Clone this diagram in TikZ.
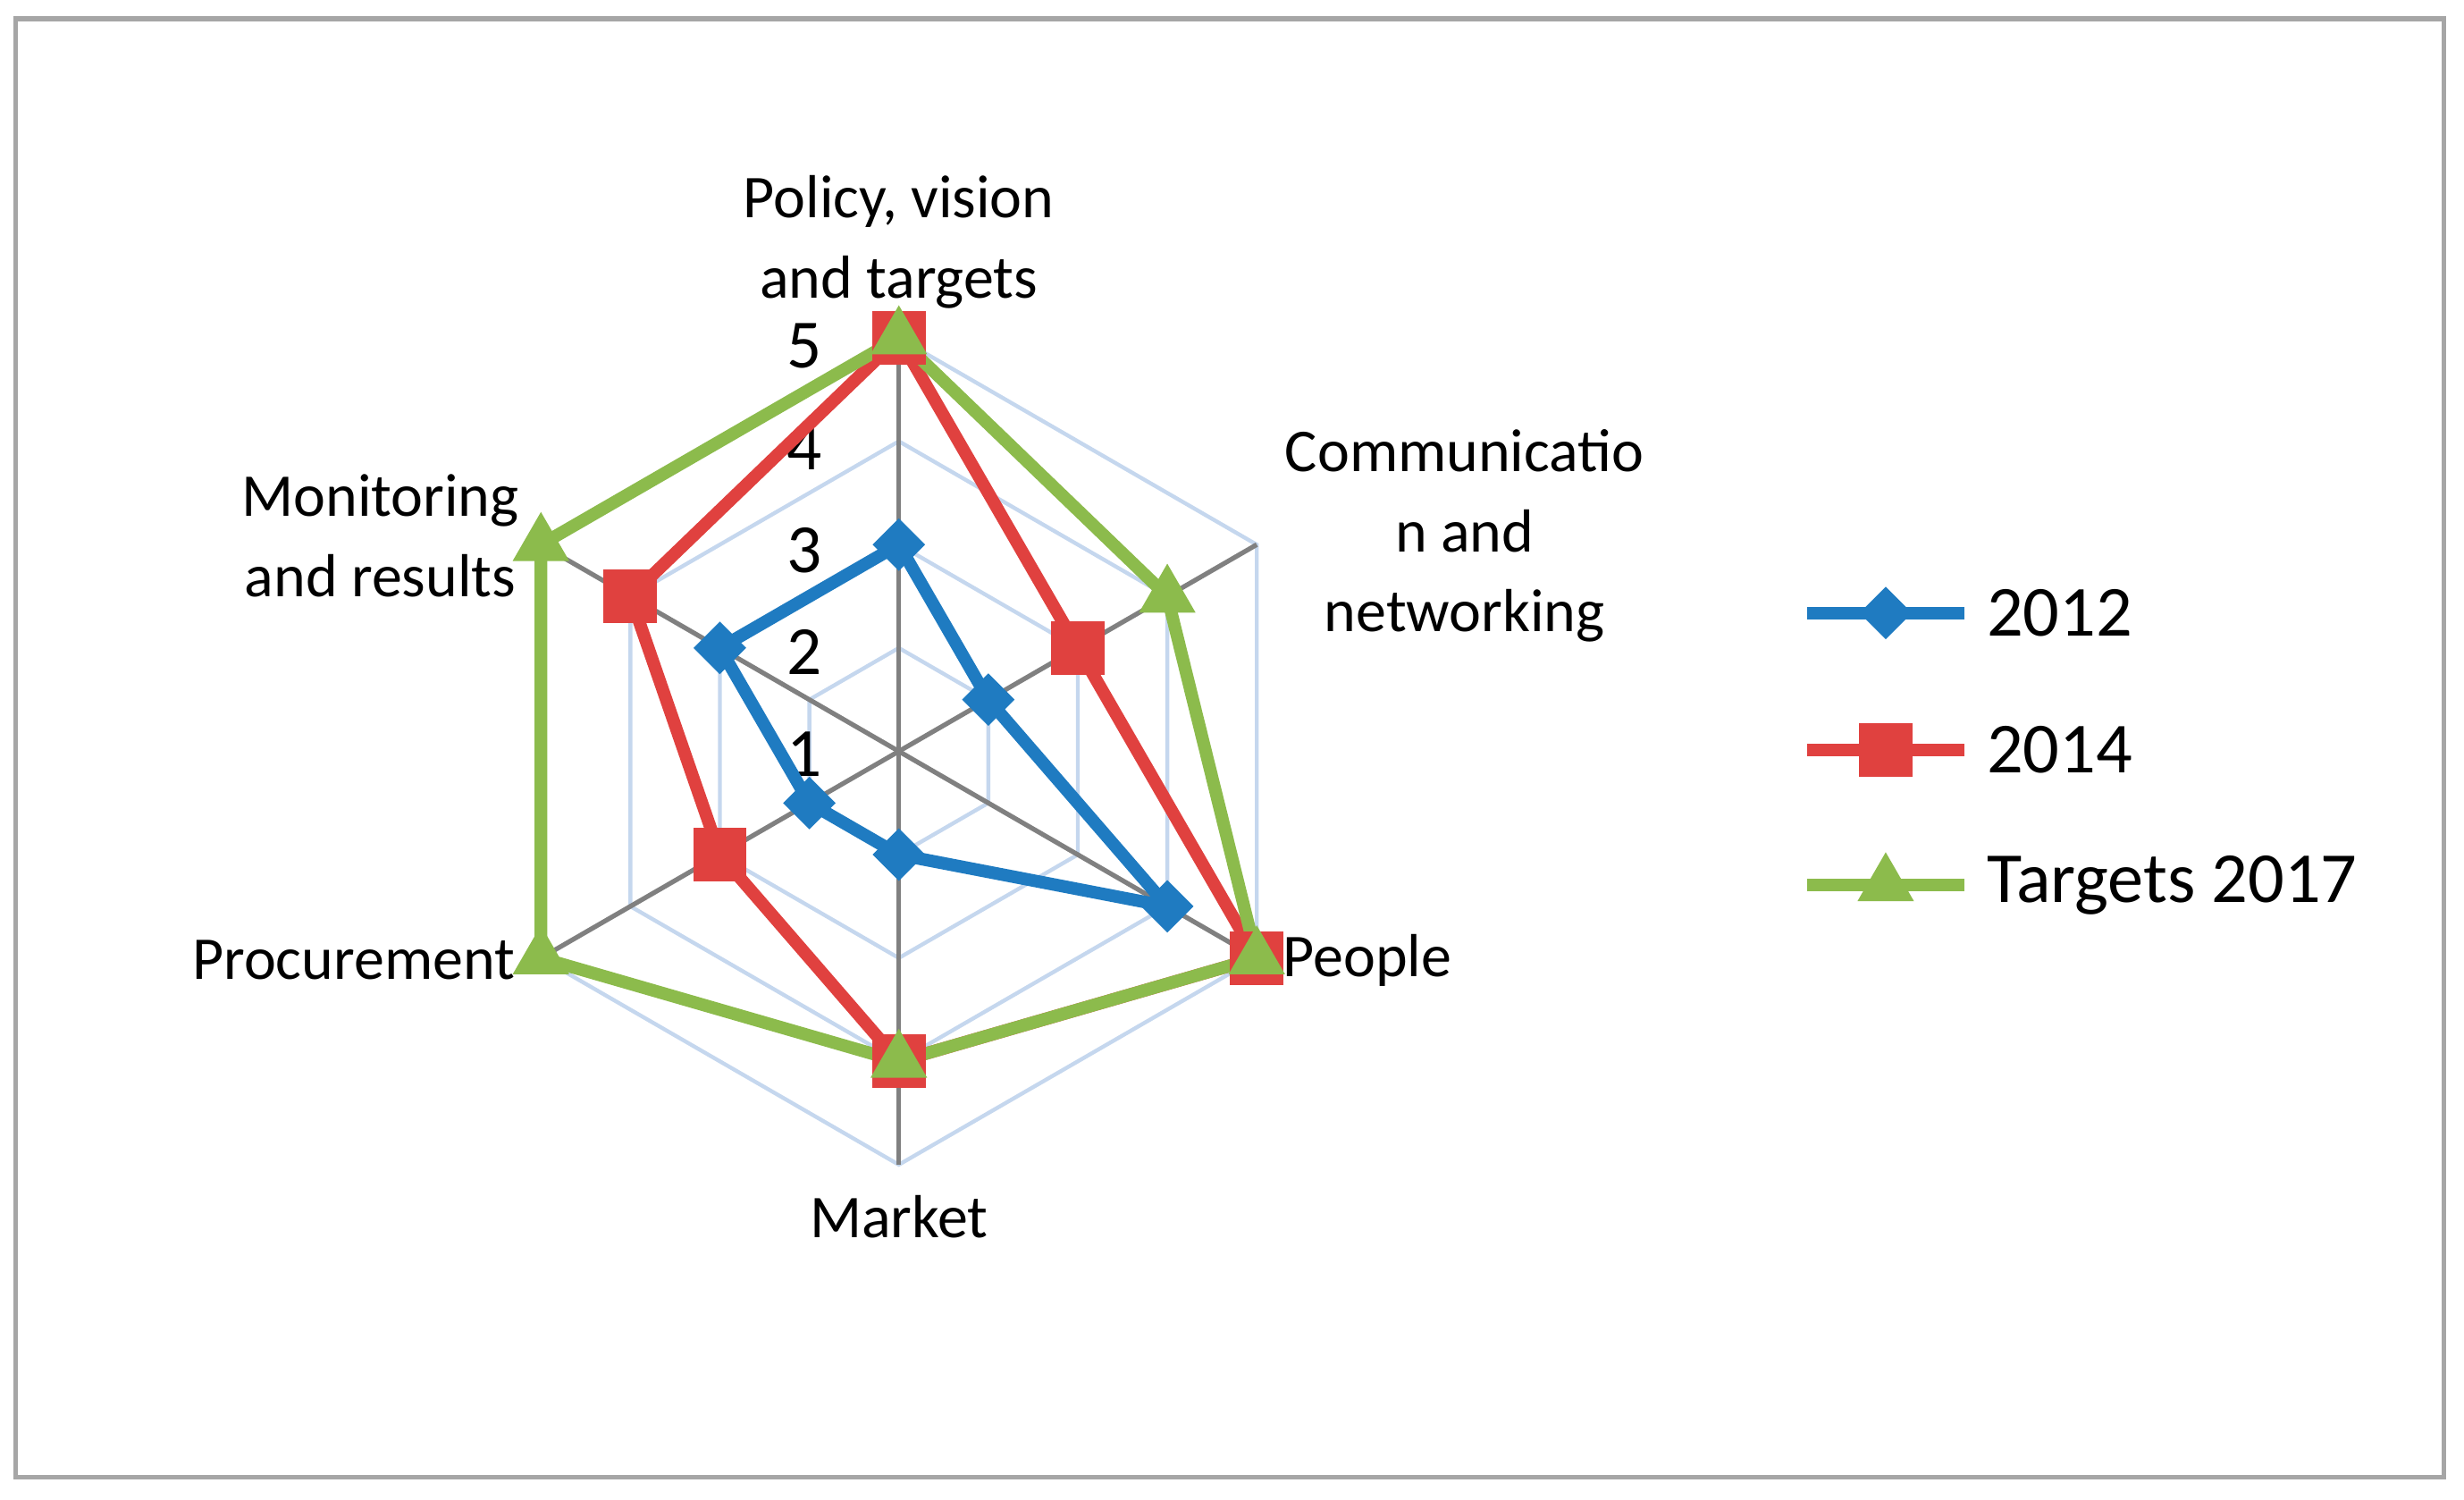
\documentclass[tikz,border=0pt]{standalone}
\usepackage{fontspec}
\setmainfont{Carlito}
\usetikzlibrary{shapes.geometric}
\definecolor{cb}{HTML}{1F7BC1}
\definecolor{cr}{HTML}{E0413F}
\definecolor{cg}{HTML}{8CBB4C}
\definecolor{grid}{HTML}{C5D7EE}
\tikzset{
 lab/.style={font=\fontsize{11}{14.5}\selectfont, align=center},
 tick/.style={font=\fontsize{12.5}{14}\selectfont},
 s12/.style={cb, line width=0.8mm},
 s14/.style={cr, line width=0.8mm},
 s17/.style={cg, line width=0.8mm},
 mb/.style={diamond, fill=cb, inner sep=0, minimum size=3.4mm},
 mr/.style={rectangle, fill=cr, inner sep=0, minimum size=3.4mm},
 mg/.style={isosceles triangle, shape border rotate=90, isosceles triangle apex angle=60, fill=cg, inner sep=0, minimum height=3mm, minimum width=3.6mm},
}
\begin{document}
\begin{tikzpicture}[x=0.1mm,y=0.1mm]
\useasboundingbox (-572,478) rectangle (996,-476);
\draw[gray!70, line width=0.3mm] (-562,466) rectangle (983,-462);
% grid
\foreach \v in {2,3,4,5}{
 \draw[grid, line width=0.25mm] (90:{(\v-1)*65.75}) \foreach \a in {30,-30,-90,-150,150}{ -- (\a:{(\v-1)*65.75})} -- cycle;}
\foreach \a in {90,30,-30,-90,-150,150}{\draw[gray, line width=0.3mm] (0,0) -- (\a:263);}
% tick labels
\foreach \v/\y in {1/-2,2/63,3/128,4/193,5/258}{\node[tick] at (-60,\y) {\v};}
% axis labels
\node[lab] at (0,324) {Policy, vision\\and targets};
\node[lab] at (360,137) {Communicatio\\n and\\networking};
\node[lab,anchor=west] at (232,-133) {People};
\node[lab] at (0,-296) {Market};
\node[lab,anchor=east] at (-232,-133) {Procurement};
\node[lab] at (-330,137) {Monitoring\\and results};
% series
\newcommand{\series}[3]{%
 \foreach \v [count=\i] in {#3}{\coordinate (#1p\i) at ({90-(\i-1)*60}:{(\v-1)*65.75});}
 \draw[#2] (#1p1)--(#1p2)--(#1p3)--(#1p4)--(#1p5)--(#1p6)--cycle;}
\series{b}{s12}{3,2,4,2,2,3}
\series{r}{s14}{5,3,5,4,3,4}
\series{g}{s17}{5,4,5,4,5,5}
\foreach \i in {1,...,6}{\node[mb] (B\i) at (bp\i) {};}
\foreach \i in {1,...,6}{\node[mr] (R\i) at (rp\i) {};}
\foreach \i in {1,...,6}{\node[mg] (G\i) at (gp\i) {};}
% legend
\tikzset{lt/.style={font=\fontsize{13}{15}\selectfont, anchor=west}}
\coordinate (l1a) at (578,88); \coordinate (l1b) at (678,88);
\coordinate (l2a) at (578,1); \coordinate (l2b) at (678,1);
\coordinate (l3a) at (578,-85); \coordinate (l3b) at (678,-85);
\draw[s12] (l1a)--(l1b); \node[mb] (LB) at (628,88) {};
\draw[s14] (l2a)--(l2b); \node[mr] (LR) at (628,1) {};
\draw[s17] (l3a)--(l3b); \node[mg] (LG) at (628,-85) {};
\node[lt] at (680,88) {2012};
\node[lt] at (680,1) {2014};
\node[lt] at (680,-85) {Targets 2017};
\end{tikzpicture}
\end{document}
